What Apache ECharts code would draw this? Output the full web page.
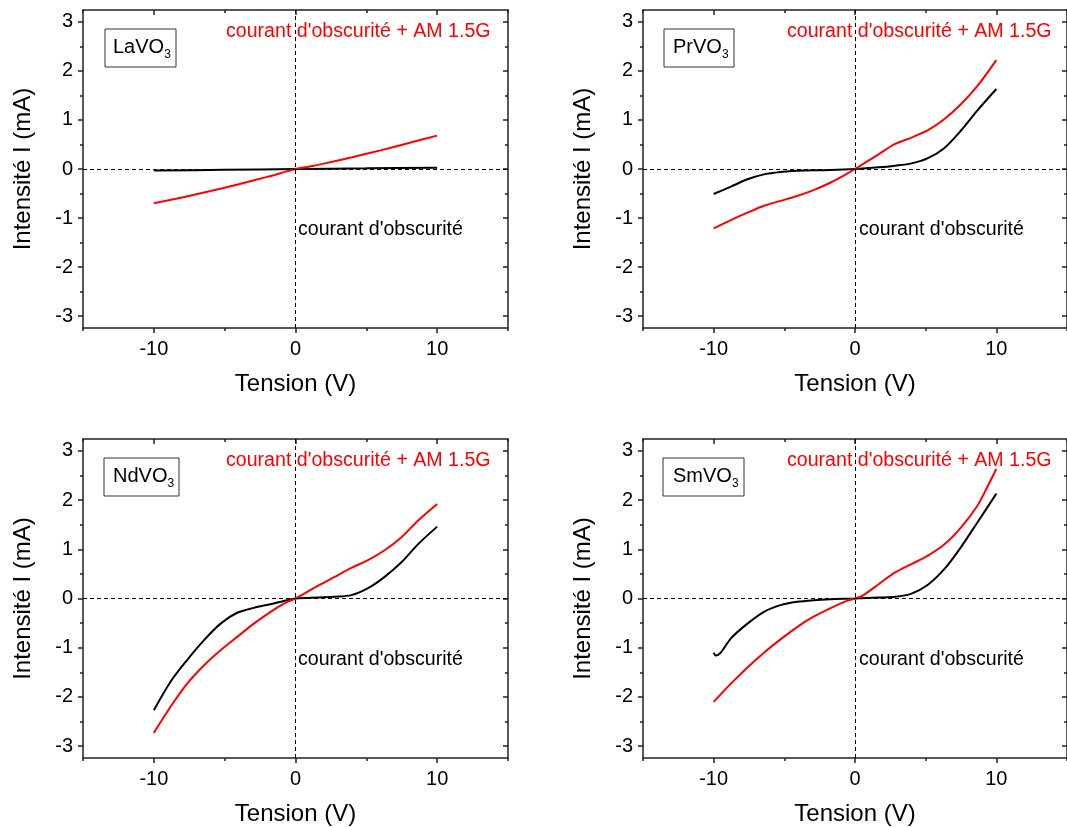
<!DOCTYPE html>
<html><head><meta charset="utf-8">
<script src="https://cdn.jsdelivr.net/npm/echarts@6/dist/echarts.min.js"></script>
<style>html,body{margin:0;padding:0;background:#fff}#c{width:1067px;height:827px}</style>
</head><body><div id="c"></div>
<script>
// ---------- data ----------
const panelNames = ['LaVO', 'PrVO', 'NdVO', 'SmVO'];
const subscript = '3';
const lightLabel = "courant d'obscurité + AM 1.5G";
const darkLabel = "courant d'obscurité";
const xTitle = 'Tension (V)';
const yTitle = 'Intensité I (mA)';
const xTickLabels = [-10, 0, 10];
const xMinorTicks = [-15, -5, 5, 15];
const yTickLabels = [-3, -2, -1, 0, 1, 2, 3];
const yMinorTicks = [-2.5, -1.5, -0.5, 0.5, 1.5, 2.5];

const laDarkV = [-10, -5, 0, 5, 10];
const laDarkI = [-0.033, -0.016, 0, 0.013, 0.027];
const laLightV = [-10, -8, -6, -4, -2, -1, 0, 1, 2, 4, 6, 8, 10];
const laLightI = [-0.70, -0.58, -0.45, -0.31, -0.16, -0.08, 0, 0.05, 0.11, 0.24, 0.38, 0.53, 0.68];

const prDarkV = [-10, -8.78, -7.61, -6.44, -5.27, -4.1, -1.76, 0, 1.67, 2.84, 4.0, 5.16, 6.33, 7.49, 8.65, 10];
const prDarkI = [-0.51, -0.36, -0.21, -0.11, -0.06, -0.034, -0.02, 0, 0.034, 0.068, 0.115, 0.22, 0.43, 0.78, 1.19, 1.63];
const prLightV = [-10, -8.78, -7.61, -6.44, -5.27, -4.1, -2.93, -1.76, -0.59, 0, 1.67, 2.84, 4.0, 5.16, 6.33, 7.49, 8.65, 10];
const prLightI = [-1.21, -1.04, -0.89, -0.75, -0.65, -0.55, -0.43, -0.28, -0.10, 0, 0.30, 0.51, 0.64, 0.79, 1.02, 1.32, 1.69, 2.22];

const ndDarkV = [-10, -8.82, -7.65, -6.47, -5.29, -4.12, -2.94, -1.76, -0.59, 0, 1.6, 2.77, 3.94, 5.12, 6.29, 7.46, 8.64, 10];
const ndDarkI = [-2.27, -1.69, -1.25, -0.85, -0.51, -0.29, -0.19, -0.115, -0.034, 0, 0.02, 0.034, 0.068, 0.21, 0.44, 0.73, 1.10, 1.46];
const ndLightV = [-10, -8.82, -7.65, -6.47, -5.29, -4.12, -2.94, -1.76, -0.59, 0, 1.6, 2.77, 3.94, 5.12, 6.29, 7.46, 8.64, 10];
const ndLightI = [-2.73, -2.20, -1.73, -1.36, -1.05, -0.78, -0.51, -0.27, -0.07, 0, 0.26, 0.44, 0.62, 0.78, 0.98, 1.24, 1.58, 1.92];

const smDarkV = [-10, -9.85, -9.5, -8.78, -7.61, -6.44, -5.27, -4.1, -2.93, -1.76, 0, 1.67, 2.84, 4.0, 5.16, 6.33, 7.49, 8.65, 10];
const smDarkI = [-1.10, -1.16, -1.10, -0.81, -0.51, -0.27, -0.135, -0.068, -0.034, -0.014, 0, 0.02, 0.034, 0.10, 0.28, 0.60, 1.04, 1.54, 2.13];
const smLightV = [-10, -8.78, -7.61, -6.44, -5.27, -4.1, -2.93, -1.76, -0.59, 0, 0.51, 1.67, 2.84, 4.0, 5.16, 6.33, 7.49, 8.65, 9.35, 10];
const smLightI = [-2.10, -1.73, -1.40, -1.10, -0.83, -0.58, -0.37, -0.20, -0.047, 0, 0.054, 0.29, 0.53, 0.70, 0.87, 1.10, 1.44, 1.88, 2.26, 2.63];

const darkSets = [[laDarkV, laDarkI], [prDarkV, prDarkI], [ndDarkV, ndDarkI], [smDarkV, smDarkI]];
const lightSets = [[laLightV, laLightI], [prLightV, prLightI], [ndLightV, ndLightI], [smLightV, smLightI]];

// ---------- layout ----------
const FONT = 'Liberation Sans, Arial, sans-serif';
const AX = '#222';
const layout = {
  grids: [
    {left: 83, top: 10, width: 425, height: 318},
    {left: 643, top: 10, width: 427, height: 318},
    {left: 83, top: 439, width: 425, height: 319},
    {left: 643, top: 439, width: 427, height: 319}
  ],
  boxes: [[105, 29, 71, 38], [664, 29, 70, 38], [104, 458, 75, 38], [663, 458, 81, 38]],
  namePos: [[113, 47], [673, 47], [113, 476], [673, 476]],
  redPos: [[226, 32], [787, 32], [226, 461], [787, 461]],
  blackPos: [[298, 230], [859, 230], [298, 660], [859, 660]]
};
const X_MIN = -15, X_MAX = 15, Y_MIN = -3.24, Y_MAX = 3.24;

const zip = (a, b) => a.map((v, i) => [v, b[i]]);

const xAxis = [], yAxis = [], series = [], graphic = [];
layout.grids.forEach((g, p) => {
  const base = {gridIndex: p, type: 'value', min: X_MIN, max: X_MAX, splitLine: {show: false}};
  xAxis.push(Object.assign({}, base, {
    position: 'bottom',
    axisLine: {show: true, onZero: false, lineStyle: {color: AX, width: 1.5}},
    axisTick: {show: true, inside: false, length: 5, customValues: xTickLabels, lineStyle: {color: AX, width: 1.5}},
    axisLabel: {show: true, customValues: xTickLabels, fontSize: 20, color: '#000', margin: 11, fontFamily: FONT},
    name: xTitle, nameLocation: 'middle', nameGap: 44,
    nameTextStyle: {fontSize: 24, color: '#000', fontFamily: FONT}
  }));
  xAxis.push(Object.assign({}, base, {
    position: 'bottom',
    axisLine: {show: false, onZero: false},
    axisTick: {show: true, inside: false, length: 3, customValues: xMinorTicks, lineStyle: {color: AX, width: 1.5}},
    axisLabel: {show: false}
  }));
  xAxis.push(Object.assign({}, base, {
    position: 'top',
    axisLine: {show: true, onZero: false, lineStyle: {color: AX, width: 1.5}},
    axisTick: {show: true, inside: true, length: 5, customValues: xTickLabels, lineStyle: {color: AX, width: 1.5}},
    axisLabel: {show: false}
  }));
  xAxis.push(Object.assign({}, base, {
    position: 'top',
    axisLine: {show: false, onZero: false},
    axisTick: {show: true, inside: true, length: 3, customValues: xMinorTicks, lineStyle: {color: AX, width: 1.5}},
    axisLabel: {show: false}
  }));

  const ybase = {gridIndex: p, type: 'value', min: Y_MIN, max: Y_MAX, splitLine: {show: false}};
  yAxis.push(Object.assign({}, ybase, {
    position: 'left',
    axisLine: {show: true, onZero: false, lineStyle: {color: AX, width: 1.5}},
    axisTick: {show: true, inside: false, length: 5, customValues: yTickLabels, lineStyle: {color: AX, width: 1.5}},
    axisLabel: {show: true, customValues: yTickLabels, fontSize: 20, color: '#000', margin: 10, fontFamily: FONT},
    name: yTitle, nameLocation: 'middle', nameGap: 48,
    nameTextStyle: {fontSize: 24, color: '#000', fontFamily: FONT}
  }));
  yAxis.push(Object.assign({}, ybase, {
    position: 'left',
    axisLine: {show: false, onZero: false},
    axisTick: {show: true, inside: false, length: 3, customValues: yMinorTicks, lineStyle: {color: AX, width: 1.5}},
    axisLabel: {show: false}
  }));
  yAxis.push(Object.assign({}, ybase, {
    position: 'right',
    axisLine: {show: true, onZero: false, lineStyle: {color: AX, width: 1.5}},
    axisTick: {show: true, inside: true, length: 5, customValues: yTickLabels, lineStyle: {color: AX, width: 1.5}},
    axisLabel: {show: false}
  }));
  yAxis.push(Object.assign({}, ybase, {
    position: 'right',
    axisLine: {show: false, onZero: false},
    axisTick: {show: true, inside: true, length: 3, customValues: yMinorTicks, lineStyle: {color: AX, width: 1.5}},
    axisLabel: {show: false}
  }));

  const ds = darkSets[p], ls = lightSets[p];
  series.push({
    type: 'line', xAxisIndex: 4 * p, yAxisIndex: 4 * p,
    data: zip(ds[0], ds[1]), showSymbol: false, smooth: 0.3,
    lineStyle: {color: '#000', width: 2}, itemStyle: {color: '#000'},
    markLine: {
      silent: true, symbol: 'none', label: {show: false},
      lineStyle: {type: [4, 3], color: '#000', width: 1},
      data: [{xAxis: 0}, {yAxis: 0}]
    }
  });
  series.push({
    type: 'line', xAxisIndex: 4 * p, yAxisIndex: 4 * p,
    data: zip(ls[0], ls[1]), showSymbol: false, smooth: 0.3,
    lineStyle: {color: '#ff0000', width: 2}, itemStyle: {color: '#ff0000'}
  });

  const b = layout.boxes[p];
  graphic.push({type: 'rect', shape: {x: b[0], y: b[1], width: b[2], height: b[3]},
    style: {fill: '#fff', stroke: '#333', lineWidth: 1}, z: 10});
  graphic.push({type: 'text', x: layout.namePos[p][0], y: layout.namePos[p][1], z: 11,
    style: {text: '{n|' + panelNames[p] + '}{s|' + subscript + '}', verticalAlign: 'middle', align: 'left',
      rich: {n: {fontSize: 20, fontFamily: FONT, fill: '#000', lineHeight: 28, verticalAlign: 'middle'},
             s: {fontSize: 12, fontFamily: FONT, fill: '#000', lineHeight: 12, verticalAlign: 'bottom'}}}});
  graphic.push({type: 'text', x: layout.redPos[p][0], y: layout.redPos[p][1], z: 11,
    style: {text: lightLabel, fontSize: 19.6, fontFamily: FONT, fill: '#ff0000', verticalAlign: 'middle', align: 'left'}});
  graphic.push({type: 'text', x: layout.blackPos[p][0], y: layout.blackPos[p][1], z: 11,
    style: {text: darkLabel, fontSize: 19.6, fontFamily: FONT, fill: '#000', verticalAlign: 'middle', align: 'left'}});
});

const chart = echarts.init(document.getElementById('c'), null, {renderer: 'canvas'});
chart.setOption({
  backgroundColor: '#fff',
  animation: false,
  grid: layout.grids.map(g => Object.assign({containLabel: false}, g)),
  xAxis, yAxis, series, graphic
});
</script></body></html>
